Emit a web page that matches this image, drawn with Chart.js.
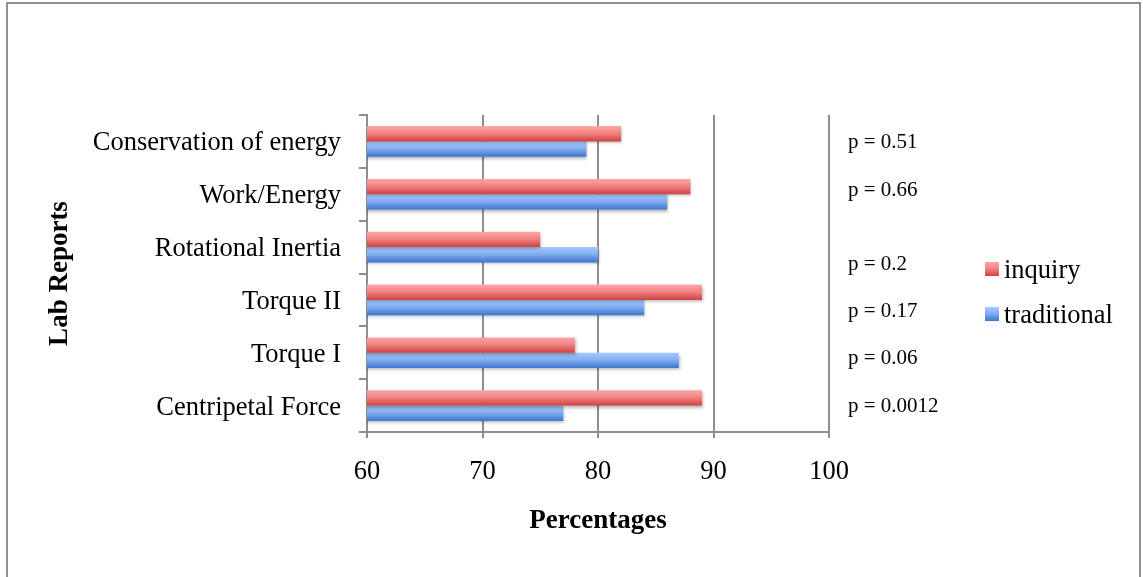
<!DOCTYPE html>
<html>
<head>
<meta charset="utf-8">
<script src="https://cdn.jsdelivr.net/npm/chart.js@4/dist/chart.umd.min.js"></script>
<style>
  html, body { margin: 0; padding: 0; background: #fff; }
  #wrap { width: 1143px; height: 577px; position: relative; }
</style>
</head>
<body>
<div id="wrap"><canvas id="c" width="1143" height="577"></canvas></div>
<script>
// Lab report scores by teaching approach
const categories = ['Conservation of energy', 'Work/Energy', 'Rotational Inertia', 'Torque II', 'Torque I', 'Centripetal Force'];
const inquiry = [82, 88, 75, 89, 78, 89];
const traditional = [79, 86, 80, 84, 87, 77];
const seriesNames = ['inquiry', 'traditional'];
const pValues = ['p = 0.51', 'p = 0.66', 'p = 0.2', 'p = 0.17', 'p = 0.06', 'p = 0.0012'];
const xTicks = [60, 70, 80, 90, 100];

const SERIF = '"Liberation Serif", "Times New Roman", serif';
const CAT_PCT = 0.58;

const palettes = [
  ['#fca5a5', '#f38585', '#cf4141'],
  ['#a6c9ff', '#84aff2', '#3b77cd']
];

function barGradient(ctx, dsIndex, dataIndex) {
  const chart = ctx.chart;
  const y = chart.scales.y;
  if (!y || !chart.chartArea) return palettes[dsIndex][1];
  const size = (y.bottom - y.top) / categories.length;
  const center = y.getPixelForValue(dataIndex);
  const start = center - size * CAT_PCT / 2;
  const stack = size * CAT_PCT / 2;
  const top = start + stack * dsIndex;
  const g = chart.ctx.createLinearGradient(0, top, 0, top + stack);
  const p = palettes[dsIndex];
  g.addColorStop(0, p[0]);
  g.addColorStop(0.45, p[1]);
  g.addColorStop(1, p[2]);
  return g;
}

const frame = {
  id: 'frame',
  beforeDraw(chart) {
    const c = chart.ctx;
    c.save();
    c.fillStyle = '#fff';
    c.fillRect(0, 0, chart.width, chart.height);
    c.strokeStyle = '#8e8e8e';
    c.lineWidth = 2;
    c.strokeRect(7, 3, 1133, 590);
    c.restore();
  }
};

const barShadow = {
  id: 'barShadow',
  beforeDatasetsDraw(chart) {
    const c = chart.ctx;
    c.save();
    c.shadowColor = 'rgba(0,0,0,0.28)';
    c.shadowBlur = 3;
    c.shadowOffsetX = 1;
    c.shadowOffsetY = 2;
  },
  afterDatasetsDraw(chart) {
    chart.ctx.restore();
  }
};

// p-value notes and the series key at the right of the plot
const sideNotes = {
  id: 'sideNotes',
  afterDraw(chart) {
    const c = chart.ctx;
    const area = chart.chartArea;
    c.save();
    c.fillStyle = '#000';
    c.textBaseline = 'middle';
    c.textAlign = 'left';
    c.font = '21px ' + SERIF;
    const noteY = [142, 190, 264, 311, 358, 406];
    pValues.forEach((t, i) => c.fillText(t, area.right + 19, noteY[i]));

    c.font = '26.5px ' + SERIF;
    const keyY = [269, 314];
    seriesNames.forEach((name, i) => {
      const top = keyY[i] - 7;
      const g = c.createLinearGradient(0, top, 0, top + 14);
      g.addColorStop(0, palettes[i][0]);
      g.addColorStop(0.45, palettes[i][1]);
      g.addColorStop(1, palettes[i][2]);
      c.fillStyle = g;
      c.fillRect(985, top, 14, 14);
      c.fillStyle = '#000';
      c.fillText(name, 1004, keyY[i] + 2);
    });
    c.restore();
  }
};

new Chart(document.getElementById('c'), {
  type: 'bar',
  data: {
    labels: categories,
    datasets: [
      { label: seriesNames[0], data: inquiry,
        backgroundColor: (ctx) => barGradient(ctx, 0, ctx.dataIndex) },
      { label: seriesNames[1], data: traditional,
        backgroundColor: (ctx) => barGradient(ctx, 1, ctx.dataIndex) }
    ]
  },
  options: {
    indexAxis: 'y',
    responsive: false,
    animation: false,
    devicePixelRatio: 1,
    layout: { padding: { top: 115, right: 1143 - 829, left: 0, bottom: 0 } },
    datasets: { bar: { barPercentage: 1, categoryPercentage: CAT_PCT, borderWidth: 0 } },
    plugins: { legend: { display: false }, tooltip: { enabled: false } },
    scales: {
      x: {
        min: 60, max: 100,
        afterFit(s) { s.height = 577 - 432; },
        afterBuildTicks(s) { s.ticks = xTicks.map(v => ({ value: v })); },
        border: { display: true, color: '#8e8e8e', width: 2 },
        grid: { color: '#8e8e8e', lineWidth: 2, tickLength: 6, drawTicks: true },
        ticks: { color: '#000', font: { family: SERIF, size: 26.5 }, padding: 18 },
        title: { display: true, text: 'Percentages', color: '#000',
                 font: { family: SERIF, size: 27, weight: 'bold' }, padding: { top: 0, bottom: 40 } }
      },
      y: {
        afterFit(s) { s.width = 367; },
        border: { display: true, color: '#8e8e8e', width: 2 },
        grid: { offset: true, drawOnChartArea: false, color: '#8e8e8e', lineWidth: 2, tickLength: 8 },
        ticks: { color: '#000', font: { family: SERIF, size: 26.5 }, padding: 18, labelOffset: 2 },
        title: { display: true, text: 'Lab Reports', color: '#000',
                 font: { family: SERIF, size: 27, weight: 'bold' }, padding: { top: 44, bottom: 0 } }
      }
    }
  },
  plugins: [frame, barShadow, sideNotes]
});
</script>
</body>
</html>
